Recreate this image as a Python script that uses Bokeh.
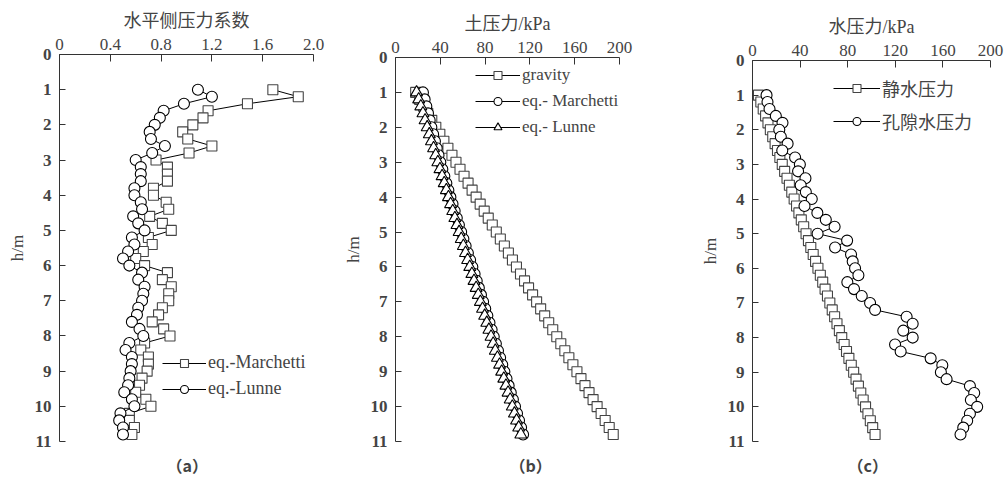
from bokeh.plotting import figure
from bokeh.layouts import row
from bokeh.models import Range1d, FixedTicker, CustomJSTickFormatter, Legend, LegendItem, Title
from bokeh.embed import file_html
from bokeh.resources import INLINE

# ---------------- data ----------------
depth = [1.0, 1.2, 1.4, 1.6, 1.8, 2.0, 2.2, 2.4, 2.6, 2.8,
         3.0, 3.2, 3.4, 3.6, 3.8, 4.0, 4.2, 4.4, 4.6, 4.8,
         5.0, 5.2, 5.4, 5.6, 5.8, 6.0, 6.2, 6.4, 6.6, 6.8,
         7.0, 7.2, 7.4, 7.6, 7.8, 8.0, 8.2, 8.4, 8.6, 8.8,
         9.0, 9.2, 9.4, 9.6, 9.8, 10.0, 10.2, 10.4, 10.6, 10.8]

# (a) horizontal earth pressure coefficient
k_marchetti = [1.68, 1.88, 1.48, 1.17, 1.13, 1.05, 0.97, 1.01, 1.20, 1.02,
               0.76, 0.85, 0.85, 0.85, 0.74, 0.74, 0.84, 0.86, 0.71, 0.81,
               0.88, 0.70, 0.73, 0.66, 0.60, 0.67, 0.85, 0.81, 0.88, 0.86,
               0.86, 0.81, 0.78, 0.73, 0.82, 0.87, 0.67, 0.64, 0.70, 0.70,
               0.69, 0.65, 0.63, 0.60, 0.68, 0.72, 0.55, 0.55, 0.59, 0.57]
k_lunne = [1.09, 1.20, 0.98, 0.82, 0.79, 0.75, 0.71, 0.72, 0.83, 0.73,
           0.60, 0.64, 0.64, 0.64, 0.59, 0.59, 0.64, 0.65, 0.58, 0.62,
           0.67, 0.57, 0.59, 0.54, 0.50, 0.55, 0.65, 0.62, 0.67, 0.66,
           0.65, 0.62, 0.61, 0.57, 0.63, 0.66, 0.55, 0.52, 0.57, 0.57,
           0.56, 0.55, 0.54, 0.51, 0.57, 0.59, 0.48, 0.47, 0.50, 0.50]

# (b) earth pressure, kPa
p_gravity = [18.0, 21.6, 25.2, 28.8, 32.4, 36.0, 39.6, 43.2, 46.8, 50.4,
             54.0, 57.6, 61.2, 64.8, 68.4, 72.0, 75.6, 79.2, 82.8, 86.4,
             90.0, 93.6, 97.2, 100.8, 104.4, 108.0, 111.6, 115.2, 118.8, 122.4,
             126.0, 129.6, 133.2, 136.8, 140.4, 144.0, 147.6, 151.2, 154.8, 158.4,
             162.0, 165.6, 169.2, 172.8, 176.4, 180.0, 183.6, 187.2, 190.8, 194.4]
p_marchetti = [24.5, 26.0, 27.5, 29.0, 30.5, 32.0, 33.6, 35.2, 36.8, 38.4,
               40.0, 41.8, 43.6, 45.4, 47.2, 49.0, 50.9, 52.8, 54.7, 56.6,
               58.6, 60.6, 62.6, 64.6, 66.6, 68.6, 70.6, 72.5, 74.4, 76.3,
               78.2, 80.1, 82.0, 83.9, 85.8, 87.7, 89.6, 91.5, 93.4, 95.3,
               97.2, 99.1, 101.0, 102.9, 104.8, 106.7, 108.5, 110.3, 112.1, 113.9]
p_lunne = [18.8, 20.7, 22.6, 24.5, 26.4, 28.3, 30.2, 32.1, 34.0, 35.9,
           37.8, 39.7, 41.6, 43.5, 45.4, 47.3, 49.2, 51.1, 53.0, 54.9,
           56.8, 58.7, 60.6, 62.5, 64.4, 66.3, 68.2, 70.1, 72.0, 73.9,
           75.8, 77.7, 79.6, 81.5, 83.4, 85.3, 87.2, 89.1, 91.0, 92.9,
           94.8, 96.7, 98.6, 100.5, 102.4, 104.3, 106.2, 108.1, 110.0, 111.9]

# (c) water pressure, kPa
u_static = [5, 7, 9, 11, 13, 15, 17, 19, 21, 23,
            25, 27, 29, 31, 33, 35, 37, 39, 41, 43,
            45, 47, 49, 51, 53, 55, 57, 59, 61, 63,
            65, 67, 69, 71, 73, 75, 77, 79, 81, 83,
            85, 87, 89, 91, 93, 95, 97, 99, 101, 103]
u_pore = [11.8, 12.6, 14.3, 19.6, 25.2, 22.5, 23.8, 29.5, 25.0, 35.8,
          39.8, 38.3, 44.5, 40.5, 44.8, 49.8, 43.7, 54.5, 61.6, 69.0,
          54.7, 79.5, 69.4, 82.8, 84.2, 86.2, 89.0, 79.7, 85.3, 91.8,
          98.8, 103.0, 129.5, 134.6, 126.7, 134.6, 119.8, 124.5, 149.7, 159.5,
          158.3, 163.1, 182.7, 186.3, 183.5, 188.8, 182.7, 180.4, 177.1, 174.8]

ticks_a = [0, 0.4, 0.8, 1.2, 1.6, 2.0]
ticks_bc = [0, 40, 80, 120, 160, 200]
ticks_y = [0, 1, 2, 3, 4, 5, 6, 7, 8, 9, 10, 11]

SERIF = "Liberation Serif"
MIX = "Liberation Serif, Noto Sans CJK SC"
CJK = "Noto Sans CJK SC"
AX = "#333333"


def make_fig(width, height, shift, lb, rb, tb, bb, xmax, xticks, fmt_code,
             xlabel, caption, cap_offset):
    p = figure(width=width, height=height, x_axis_location="above",
               x_range=Range1d(0, xmax), y_range=Range1d(11, 0),
               output_backend="svg", toolbar_location=None,
               min_border_left=lb, min_border_right=rb,
               min_border_top=tb, min_border_bottom=bb)
    if shift:
        p.styles = {"margin-top": f"-{shift}px"}
    p.outline_line_color = None
    p.grid.visible = False
    xa = p.xaxis[0]
    xa.ticker = FixedTicker(ticks=xticks)
    xa.formatter = CustomJSTickFormatter(code=fmt_code)
    xa.major_tick_in = 7
    xa.major_tick_out = 0
    xa.minor_tick_line_color = None
    xa.axis_line_color = AX
    xa.major_tick_line_color = AX
    xa.major_label_text_font = SERIF
    xa.major_label_text_font_size = "17px"
    xa.major_label_standoff = 5
    xa.axis_label = xlabel
    xa.axis_label_text_font = MIX
    xa.axis_label_text_font_size = "18px"
    xa.axis_label_text_font_style = "normal"
    xa.axis_label_standoff = 5
    ya = p.yaxis[0]
    ya.ticker = FixedTicker(ticks=ticks_y)
    ya.major_tick_in = 6
    ya.major_tick_out = 0
    ya.minor_tick_line_color = None
    ya.axis_line_color = AX
    ya.major_tick_line_color = AX
    ya.major_label_text_font = SERIF
    ya.major_label_text_font_size = "17px"
    ya.major_label_text_font_style = "bold"
    ya.major_label_standoff = 8
    ya.axis_label = "h/m"
    ya.axis_label_text_font = SERIF
    ya.axis_label_text_font_size = "17px"
    ya.axis_label_text_font_style = "normal"
    ya.axis_label_standoff = 5
    cap = Title(text=caption, align="left", text_font=CJK, text_font_size="16px",
                text_font_style="bold", standoff=19, offset=cap_offset)
    p.add_layout(cap, "below")
    return p


def series(p, x, y, marker, size, line_color="black"):
    ln = p.line(x, y, line_color="black", line_width=1)
    sc = p.scatter(x, y, marker=marker, size=size, fill_color="white",
                   line_color=line_color, line_width=1.1)
    return [ln, sc]


def add_legend(p, items, loc, glyph_w, spacing, font, fsize):
    lg = Legend(items=[LegendItem(label=t, renderers=r) for t, r in items],
                location=loc, glyph_width=glyph_w, glyph_height=20,
                label_height=20, spacing=spacing, padding=0, margin=0,
                label_standoff=2, border_line_color=None,
                background_fill_alpha=0, label_text_font=font,
                label_text_font_size=fsize)
    p.add_layout(lg, "center")


fmt_a = "return tick == 0 ? '0' : tick.toFixed(1);"
fmt_bc = "return tick.toFixed(0);"

# ---- (a) ----
pa = make_fig(340, 494, 8, 59, 27, 62, 43, 2.0, ticks_a, fmt_a, "水平侧压力系数", "（a）", 107)
ra1 = series(pa, k_marchetti, depth, "square", 10, "#444444")
ra2 = series(pa, k_lunne, depth, "circle", 11)
add_legend(pa, [("eq.-Marchetti", ra1), ("eq.-Lunne", ra2)], (103, 42), 44, 5, SERIF, "18px")

# ---- (b) ----
pb = make_fig(355, 491, 5, 53, 76, 62, 39, 200, ticks_bc, fmt_bc, "土压力/kPa", "（b）", 114)
rb1 = series(pb, p_gravity, depth, "square", 10, "#444444")
rb2 = series(pb, p_marchetti, depth, "circle", 11)
rb3 = series(pb, p_lunne, depth, "triangle", 12)
add_legend(pb, [("gravity", rb1), ("eq.- Marchetti", rb2), ("eq.- Lunne", rb3)], (80, 304), 45, 6, SERIF, "17px")

# ---- (c) ----
pc = make_fig(312, 488, 2, 57, 17, 62, 38, 200, ticks_bc, fmt_bc, "水压力/kPa", "（c）", 95)
rc1 = series(pc, u_static, depth, "square", 10, "#444444")
rc2 = series(pc, u_pore, depth, "circle", 11)
add_legend(pc, [("静水压力", rc1), ("孔隙水压力", rc2)], (81, 307), 47, 7, CJK, "18px")

layout = row(pa, pb, pc, spacing=0)
open("out.html", "w").write(file_html(layout, INLINE))
